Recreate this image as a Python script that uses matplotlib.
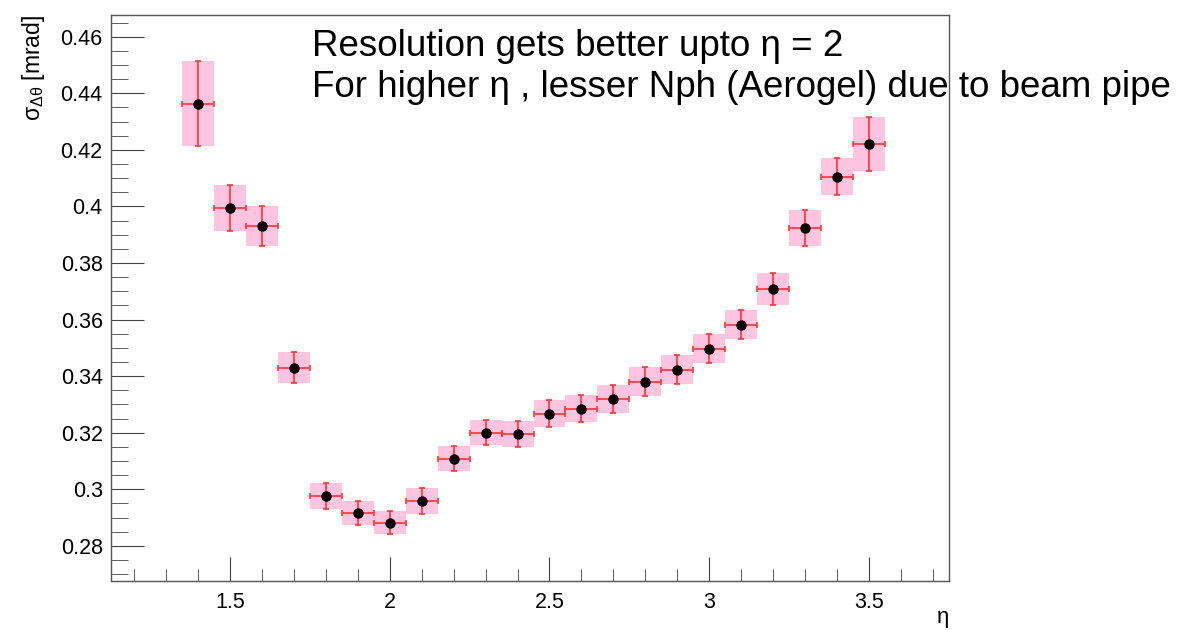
import numpy as np
import matplotlib.pyplot as plt
from matplotlib.ticker import MultipleLocator

plt.rcParams['font.family'] = ['Liberation Sans', 'DejaVu Sans']

# eta bins (centres) and resolution values
eta = [1.4, 1.5, 1.6, 1.7, 1.8, 1.9, 2.0, 2.1, 2.2, 2.3, 2.4,
       2.5, 2.6, 2.7, 2.8, 2.9, 3.0, 3.1, 3.2, 3.3, 3.4, 3.5]
sigma = [0.4363, 0.3995, 0.3931, 0.3430, 0.2977, 0.2917, 0.2882, 0.2960,
         0.3109, 0.3200, 0.3196, 0.3267, 0.3285, 0.3320, 0.3380, 0.3423,
         0.3497, 0.3582, 0.3709, 0.3925, 0.4105, 0.4221]
sigma_err = [0.0150, 0.0082, 0.0069, 0.0055, 0.0045, 0.0043, 0.0041, 0.0046,
             0.0045, 0.0044, 0.0046, 0.0048, 0.0048, 0.0050, 0.0051, 0.0051,
             0.0052, 0.0052, 0.0057, 0.0063, 0.0066, 0.0095]
bin_half = 0.05

eta = np.array(eta)
sigma = np.array(sigma)
sigma_err = np.array(sigma_err)

fig = plt.figure(figsize=(11.91, 6.30), dpi=100)
ax = fig.add_axes([0.0932, 0.0778, 0.7036, 0.8984])

# pink error boxes
ax.bar(eta, 2 * sigma_err, bottom=sigma - sigma_err, width=2 * bin_half,
       color='#ffc4df', edgecolor='none', zorder=1)
# red error bars + black markers
ax.errorbar(eta, sigma, xerr=bin_half, yerr=sigma_err, fmt='none',
            ecolor='#ff3333', elinewidth=1.2, capsize=2.5, capthick=1.2, zorder=2)
ax.plot(eta, sigma, 'o', color='black', markersize=6.5, zorder=3)

ax.set_xlim(1.128, 3.75)
ax.set_ylim(0.2676, 0.4677)

ax.xaxis.set_major_locator(MultipleLocator(0.5))
ax.xaxis.set_minor_locator(MultipleLocator(0.1))
ax.yaxis.set_major_locator(MultipleLocator(0.02))
ax.yaxis.set_minor_locator(MultipleLocator(0.005))
ax.xaxis.set_major_formatter(plt.FuncFormatter(lambda v, p: f"{v:g}"))
ax.yaxis.set_major_formatter(plt.FuncFormatter(lambda v, p: f"{v:g}"))

ax.tick_params(axis='both', which='both', direction='in', colors='#444444',
               labelcolor='black', labelsize=15.5)
ax.tick_params(axis='y', which='major', length=24, pad=6)
ax.tick_params(axis='y', which='minor', length=12)
ax.tick_params(axis='x', which='major', length=17, pad=8)
ax.tick_params(axis='x', which='minor', length=9)
ax.tick_params(top=False, right=False)
for s in ax.spines.values():
    s.set_color('#555555')
    s.set_linewidth(1.0)

ax.set_ylabel(r'σ$_{\mathregular{Δθ}}$ [mrad]', fontsize=16.5)
ax.yaxis.set_label_coords(-0.076, 1.0)
ax.yaxis.label.set_horizontalalignment('right')
ax.set_xlabel('η', fontsize=16)
ax.xaxis.set_label_coords(0.993, -0.064)
ax.xaxis.label.set_verticalalignment('center')

ax.text(0.2404, 0.928, 'Resolution gets better upto η = 2', transform=ax.transAxes,
        fontsize=26.5, ha='left', va='baseline', clip_on=False)
ax.text(0.2404, 0.8555, 'For higher η , lesser Nph (Aerogel) due to beam pipe',
        transform=ax.transAxes, fontsize=26.5, ha='left', va='baseline', clip_on=False)

fig.savefig('out.png', dpi=100)
